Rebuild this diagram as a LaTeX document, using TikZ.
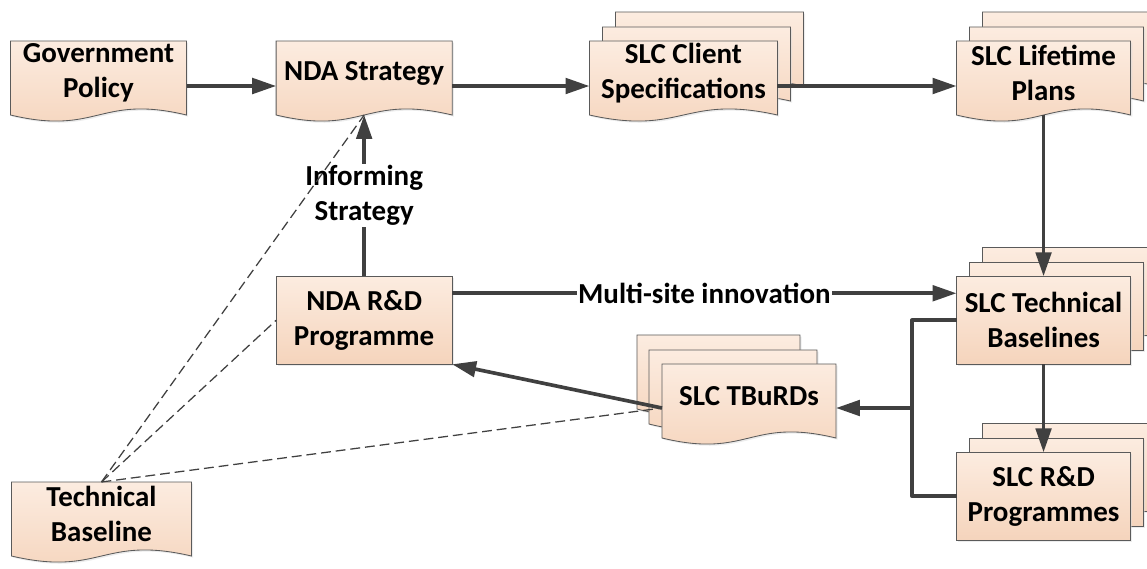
\documentclass[tikz,border=0pt]{standalone}
\usepackage{fontspec}
\setmainfont{Carlito}
\usetikzlibrary{arrows.meta,positioning,calc,backgrounds,shadows}

\definecolor{peachtop}{RGB}{252,236,224}
\definecolor{peachbot}{RGB}{245,212,188}
\definecolor{bordergray}{RGB}{90,90,90}
\definecolor{linegray}{RGB}{64,64,64}

% outline of a document shape: node, left shift, right shift, up/down shift
\newcommand{\docpath}[4]{%
  ($(#1.north west)+(#2,#4)$) -- ($(#1.north east)+(#3,#4)$)
  -- ($(#1.south east)+(#3,#4+10)$)
  .. controls ($(#1.south)+({(#2+#3)/2},#4-11)$) and ($(#1.south)+({(#2+#3)/2},#4+31)$)
  .. ($(#1.south west)+(#2,#4+10)$) -- cycle}
% outline of a process box
\newcommand{\boxpath}[3]{($(#1.north west)+(#2,#3)$) rectangle ($(#1.south east)+(#2,#3)$)}

\begin{document}
\begin{tikzpicture}[%
x=0.025cm, y=-0.025cm,
>={Triangle[length=17pt,width=11pt]},
on grid,
every node/.style={font=\fontsize{20.6}{24.8}\selectfont\bfseries, align=center, inner sep=0pt, outer sep=0pt},
doc/.style={minimum width=4.4cm, minimum height=1.6cm},
procbox/.style={minimum width=4.4cm, minimum height=2.2cm},
outline/.style={draw=bordergray, line width=0.6pt, top color=peachtop, bottom color=peachbot,
  drop shadow={shadow xshift=1.2pt, shadow yshift=-1.2pt, fill=black!15}},
flow/.style={->, draw=linegray, line width=2.6pt},
hint/.style={draw=linegray, line width=0.9pt, dash pattern=on 7pt off 3.5pt},
lbl/.style={fill=white, inner sep=1pt}
]
\useasboundingbox (0,0) rectangle (1147,568);

\node[doc] (gp) at (98.5,73) {Government\\Policy};
\node[doc, right=6.64cm of gp] (ndas) {NDA Strategy};
\node[doc, minimum width=4.7cm, right=7.98cm of ndas] (cspec) {SLC Client\\Specifications};
\node[doc, minimum width=4.35cm, right=9cm of cspec] (ltp) {SLC Lifetime\\Plans};
\node[procbox, minimum width=4.35cm, below=6.18cm of ltp] (slctb) {SLC Technical\\Baselines};
\node[procbox, minimum width=4.35cm, below=4.4cm of slctb] (slcrd) {SLC R\&D\\Programmes};
\node[procbox, below=6.18cm of ndas] (ndard) {NDA R\&D\\Programme};
\node[doc, minimum width=4.35cm] (tburds) at (749,396) {SLC TBuRDs};
\node[doc, minimum width=4.5cm] (techbl) at (101.5,514) {Technical\\Baseline};
\coordinate (fork) at (912,408);

\begin{scope}[on background layer]
  \foreach \n in {cspec, ltp} {
    \draw[outline] \docpath{\n}{26}{26}{-29};
    \draw[outline] \docpath{\n}{13}{13}{-14};
  }
  \draw[outline] \docpath{tburds}{-25}{-36}{-29};
  \draw[outline] \docpath{tburds}{-13}{-19}{-14};
  \foreach \n in {gp, ndas, cspec, ltp, tburds, techbl}
    \draw[outline] \docpath{\n}{0}{0}{0};
  \foreach \n in {slctb, slcrd} {
    \draw[outline] \boxpath{\n}{26}{-29};
    \draw[outline] \boxpath{\n}{13}{-14};
    \draw[outline] \boxpath{\n}{0}{0};
  }
  \draw[outline] \boxpath{ndard}{0}{0};
\end{scope}

\draw[flow] ([yshift=-0.325cm]gp.east) -- ([yshift=-0.325cm]ndas.west);
\draw[flow] ([yshift=-0.325cm]ndas.east) -- ([yshift=-0.325cm]cspec.west);
\draw[flow] ([yshift=-0.325cm]cspec.east) -- ([yshift=-0.325cm]ltp.west);
\draw[flow] ([yshift=-0.25cm]ltp.south) -- (slctb.north);
\draw[flow] (slctb.south) -- (slcrd.north);
\draw[flow] (ndard.north) -- node[lbl] {Informing\\Strategy} ([yshift=-0.25cm]ndas.south);
\draw[flow] ([yshift=0.675cm]ndard.east) -- node[lbl] {Multi-site innovation} ([yshift=0.675cm]slctb.west);
\draw[draw=linegray, line width=2.6pt, line join=round] (slctb.west) -| (fork) |- (slcrd.west);
\draw[flow] (fork) -- (fork -| tburds.east);
\draw[flow] (fork -| tburds.west) -- (ndard.south east);

% technical baseline links
\draw[hint] (techbl.north) -- ([yshift=-0.25cm]ndas.south);
\draw[hint] (techbl.north) -- (ndard.west);
\draw[hint] (techbl.north) -- (fork -| tburds.west);

\end{tikzpicture}
\end{document}
